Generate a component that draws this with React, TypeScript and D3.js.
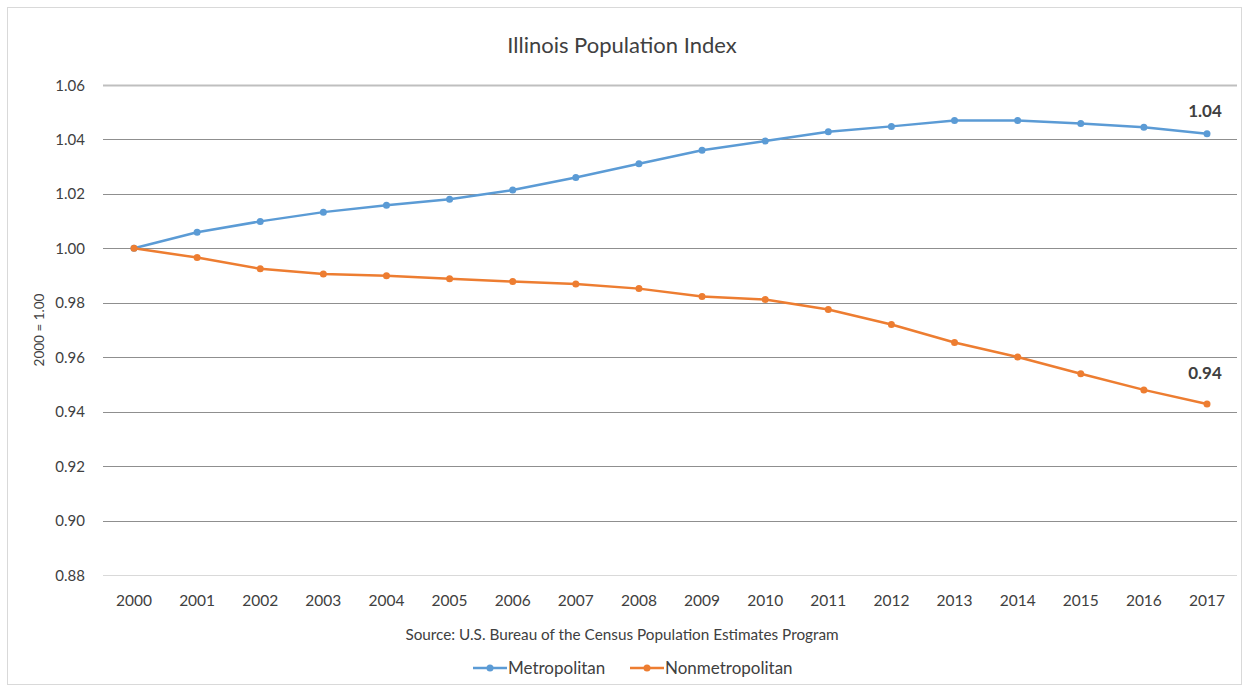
import React from "react";
import * as d3 from "d3";

const years = [2000, 2001, 2002, 2003, 2004, 2005, 2006, 2007, 2008, 2009, 2010, 2011, 2012, 2013, 2014, 2015, 2016, 2017];
const metropolitan = [1.0, 1.0059, 1.0099, 1.0133, 1.0158, 1.018, 1.0214, 1.026, 1.0311, 1.036, 1.0394, 1.0428, 1.0448, 1.047, 1.047, 1.0459, 1.0445, 1.0421];
const nonmetropolitan = [1.0, 0.9966, 0.9925, 0.9906, 0.9899, 0.9888, 0.9878, 0.9869, 0.9852, 0.9823, 0.9812, 0.9775, 0.972, 0.9654, 0.9601, 0.9539, 0.948, 0.9428];
const yTicks = [0.88, 0.9, 0.92, 0.94, 0.96, 0.98, 1.0, 1.02, 1.04, 1.06];
const seriesNames = ["Metropolitan", "Nonmetropolitan"];
const colors = ["#5B9BD5", "#ED7D31"];
const endLabels = ["1.04", "0.94"];

const W = 1250;
const H = 689;
const FONT = "Lato, 'Open Sans', sans-serif";

export default function App() {
  const left = 103, right = 1237, top = 85, bottom = 575;
  const x = d3.scalePoint<number>().domain(years).range([134, 1207]);
  const y = d3.scaleLinear().domain([0.88, 1.06]).range([bottom, top]);
  const line = d3.line<number>().x((_, i) => x(years[i])!).y((d) => y(d));
  const series = [metropolitan, nonmetropolitan];
  const labelDy = [-17, -25];

  return (
    <svg width={W} height={H} style={{ position: "absolute", left: 0, top: 0 }} fontFamily={FONT}>
      <rect x={0} y={0} width={W} height={H} fill="#fff" />
      <rect x={7.5} y={7.5} width={1234} height={677} fill="#fff" stroke="#d9d9d9" />
      <text x={622} y={53} textAnchor="middle" fontSize={22} fill="#404040">Illinois Population Index</text>
      {yTicks.map((t, i) => (
        <g key={t}>
          <line x1={left} x2={right} y1={Math.round(y(t)) + 0.5} y2={Math.round(y(t)) + 0.5}
            stroke={i === 0 ? "#d9d9d9" : i === yTicks.length - 1 ? "#bfbfbf" : "#8f8f8f"}
            strokeWidth={i === yTicks.length - 1 ? 2 : 1} />
          <text x={85} y={y(t) + 5.5} textAnchor="end" fontSize={15} fill="#404040">{t.toFixed(2)}</text>
        </g>
      ))}
      {years.map((yr) => (
        <text key={yr} x={x(yr)!} y={606} textAnchor="middle" fontSize={15.5} fill="#404040">{yr}</text>
      ))}
      <text transform={`translate(44,${(top + bottom) / 2}) rotate(-90)`} textAnchor="middle" fontSize={13.5} fill="#404040">2000 = 1.00</text>
      {series.map((s, si) => (
        <g key={si}>
          <path d={line(s)!} fill="none" stroke={colors[si]} strokeWidth={2.5} strokeLinejoin="round" />
          {s.map((v, i) => (
            <circle key={i} cx={x(years[i])!} cy={y(v)} r={3.5} fill={colors[si]} />
          ))}
          <text x={x(years[years.length - 1])! - 2} y={y(s[s.length - 1]) + labelDy[si]} textAnchor="middle" fontSize={17} fontWeight="bold" fill="#404040">{endLabels[si]}</text>
        </g>
      ))}
      <text x={622} y={640} textAnchor="middle" fontSize={15.3} fill="#404040">Source: U.S. Bureau of the Census Population Estimates Program</text>
      {seriesNames.map((n, i) => {
        const lx = i === 0 ? 473 : 630;
        return (
          <g key={n}>
            <line x1={lx} x2={lx + 34} y1={668} y2={668} stroke={colors[i]} strokeWidth={2.5} />
            <circle cx={lx + 17} cy={668} r={3.5} fill={colors[i]} />
            <text x={lx + 35} y={674} fontSize={17} fill="#404040">{n}</text>
          </g>
        );
      })}
    </svg>
  );
}
